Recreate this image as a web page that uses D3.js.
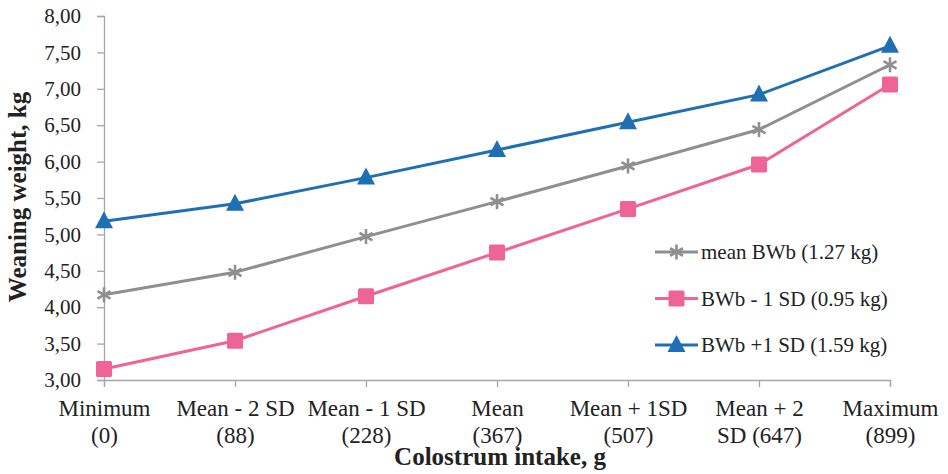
<!DOCTYPE html>
<html><head><meta charset="utf-8">
<script src="https://cdn.jsdelivr.net/npm/d3@7"></script>
<style>body{margin:0;background:#fff}svg{display:block}</style>
</head><body><svg id="c" width="948" height="474"></svg>
<script>
const categories = ["Minimum|(0)", "Mean - 2 SD|(88)", "Mean - 1 SD|(228)", "Mean|(367)", "Mean + 1SD|(507)", "Mean + 2|SD (647)", "Maximum|(899)"];
const meanBWb = [4.17, 4.48, 4.97, 5.45, 5.94, 6.44, 7.33];
const minusSD = [3.15, 3.54, 4.15, 4.75, 5.35, 5.96, 7.06];
const plusSD  = [5.18, 5.42, 5.78, 6.16, 6.54, 6.92, 7.59];
const yTicks = [3.0, 3.5, 4.0, 4.5, 5.0, 5.5, 6.0, 6.5, 7.0, 7.5, 8.0];
const seriesNames = ["mean BWb (1.27 kg)", "BWb - 1 SD (0.95 kg)", "BWb +1 SD (1.59 kg)"];

(function () {
const FONT = "'Liberation Serif', 'Times New Roman', serif";
const svg = d3.select("#c");
const mLeft = 104, mRight = 890, mTop = 16, mBottom = 380;
const x = d3.scalePoint().domain(categories).range([mLeft, mRight]);
const y = d3.scaleLinear().domain([3, 8]).range([mBottom, mTop]);
const axisColor = "#a6a6a6";

// Y axis
const ya = svg.append("g").attr("transform", `translate(${mLeft},0)`)
  .call(d3.axisLeft(y).tickValues(yTicks).tickSize(7).tickPadding(16)
    .tickFormat(d => d3.format(".2f")(d).replace(".", ",")));
ya.attr("font-family", null);
ya.select(".domain").attr("stroke", axisColor).attr("stroke-width", 1.3);
ya.selectAll(".tick line").attr("stroke", axisColor).attr("stroke-width", 1.3);
ya.selectAll(".tick text").style("font-family", FONT).style("font-size", "21px")
  .attr("fill", "#222");

// X axis
const xa = svg.append("g").attr("transform", `translate(0,${mBottom})`)
  .call(d3.axisBottom(x).tickSize(7).tickFormat(""));
xa.attr("font-family", null);
xa.select(".domain").attr("stroke", axisColor).attr("stroke-width", 1.3);
xa.selectAll(".tick line").attr("stroke", axisColor).attr("stroke-width", 1.3);
xa.selectAll(".tick text").remove();
xa.selectAll(".tick").each(function(d) {
  const parts = d.split("|");
  const g = d3.select(this);
  parts.forEach((p, i) => {
    g.append("text").attr("x", 0).attr("y", 36 + i * 27)
      .attr("text-anchor", "middle").attr("fill", "#222")
      .style("font-family", FONT).style("font-size", "23px").text(p);
  });
});

// axis titles
svg.append("text").attr("x", 500).attr("y", 465)
  .attr("text-anchor", "middle").attr("fill", "#222")
  .style("font-family", FONT).style("font-size", "25px").style("font-weight", "bold")
  .text("Colostrum intake, g");
svg.append("text").attr("transform", "translate(26,197) rotate(-90)")
  .attr("text-anchor", "middle").attr("fill", "#222")
  .style("font-family", FONT).style("font-size", "25px").style("font-weight", "bold")
  .text("Weaning weight, kg");

const colors = ["#8f8f8f", "#ef6496", "#1f6fb4"];
const data = [meanBWb, minusSD, plusSD];
const line = d3.line().x((d, i) => x(categories[i])).y(d => y(d));

function drawMarker(g, type, cx, cy, color) {
  if (type === 0) {
    const r = 7.5;
    [30, 90, 150].forEach(a => {
      const rad = a * Math.PI / 180;
      g.append("line").attr("x1", cx - r * Math.cos(rad)).attr("y1", cy - r * Math.sin(rad))
        .attr("x2", cx + r * Math.cos(rad)).attr("y2", cy + r * Math.sin(rad))
        .attr("stroke", color).attr("stroke-width", 2.6);
    });
  } else if (type === 1) {
    g.append("rect").attr("x", cx - 8).attr("y", cy - 8).attr("width", 16).attr("height", 16)
      .attr("rx", 1.5).attr("fill", color);
  } else {
    g.append("path").attr("d", `M${cx},${cy - 10}L${cx + 9},${cy + 7}L${cx - 9},${cy + 7}Z`)
      .attr("fill", color);
  }
}

data.forEach((vals, s) => {
  svg.append("path").datum(vals).attr("d", line).attr("fill", "none")
    .attr("stroke", colors[s]).attr("stroke-width", 3);
  const g = svg.append("g");
  vals.forEach((v, i) => drawMarker(g, s, x(categories[i]), y(v), colors[s]));
});

// legend
const lg = svg.append("g");
seriesNames.forEach((name, s) => {
  const cy = 252 + s * 46.5;
  lg.append("line").attr("x1", 655).attr("x2", 698).attr("y1", cy).attr("y2", cy)
    .attr("stroke", colors[s]).attr("stroke-width", 3);
  drawMarker(lg, s, 676.5, cy, colors[s]);
  lg.append("text").attr("x", 701).attr("y", cy + 7).attr("fill", "#222")
    .style("font-family", FONT).style("font-size", "21px").text(name);
});
})();
</script></body></html>
